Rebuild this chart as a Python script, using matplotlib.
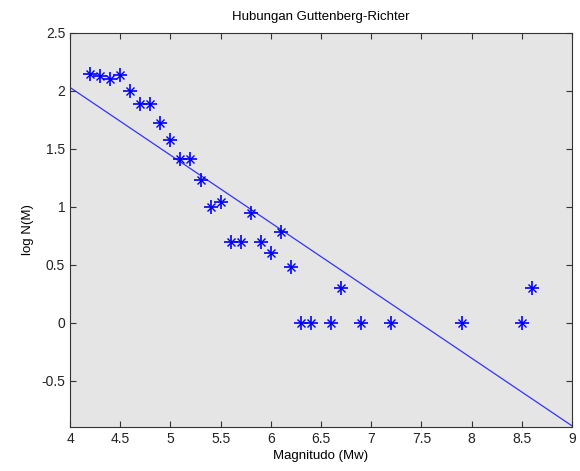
import numpy as np
import matplotlib.pyplot as plt

plt.rcParams['font.family'] = ['Liberation Sans', 'DejaVu Sans']

# data
magnitudo = [4.2, 4.3, 4.4, 4.5, 4.6, 4.7, 4.8, 4.9, 5.0, 5.1, 5.2, 5.3, 5.4, 5.5, 5.6,
             5.7, 5.8, 5.9, 6.0, 6.1, 6.2, 6.3, 6.4, 6.6, 6.7, 6.9, 7.2, 7.9, 8.5, 8.6]
log_n = [2.15, 2.13, 2.10, 2.14, 2.00, 1.89, 1.89, 1.72, 1.58, 1.41, 1.41, 1.23, 1.00, 1.04, 0.70,
         0.70, 0.95, 0.70, 0.60, 0.78, 0.48, 0.0, 0.0, 0.0, 0.30, 0.0, 0.0, 0.0, 0.0, 0.30]

# regression line endpoints
fit_x = [4, 9]
fit_y = [2.03, -0.89]

fig = plt.figure(figsize=(5.8, 4.71), dpi=100)
ax = fig.add_axes([0.1207, 0.0934, 0.8655, 0.8366])
ax.set_facecolor('#e5e5e5')

ax.plot(fit_x, fit_y, color='#3333ff', lw=0.9)
# MATLAB-style asterisk: a plus with a smaller x on top
ax.plot(magnitudo, log_n, linestyle='none', marker='+', markersize=10,
        markeredgewidth=1.2, color='#0000ff')
ax.plot(magnitudo, log_n, linestyle='none', marker='x', markersize=6,
        markeredgewidth=1.0, color='#0000ff')

ax.set_xlim(4, 9)
ax.set_ylim(-0.9, 2.5)
ax.set_xticks(np.arange(4, 9.01, 0.5))
ax.set_xticklabels(['4', '4.5', '5', '5.5', '6', '6.5', '7', '7.5', '8', '8.5', '9'])
ax.set_yticks(np.arange(-0.5, 2.51, 0.5))
ax.set_yticklabels(['-0.5', '0', '0.5', '1', '1.5', '2', '2.5'])
ax.tick_params(direction='in', top=True, right=True, labelsize=10, length=4, colors='#333333')
ax.tick_params(labelcolor='#222222')
for s in ax.spines.values():
    s.set_color('#333333')

ax.set_title('Hubungan Guttenberg-Richter', fontsize=9.5, pad=9)
ax.set_xlabel('Magnitudo (Mw)', fontsize=9.5, labelpad=3)
ax.set_ylabel('log N(M)', fontsize=9.5, labelpad=5)

fig.savefig('out.png', dpi=100)
